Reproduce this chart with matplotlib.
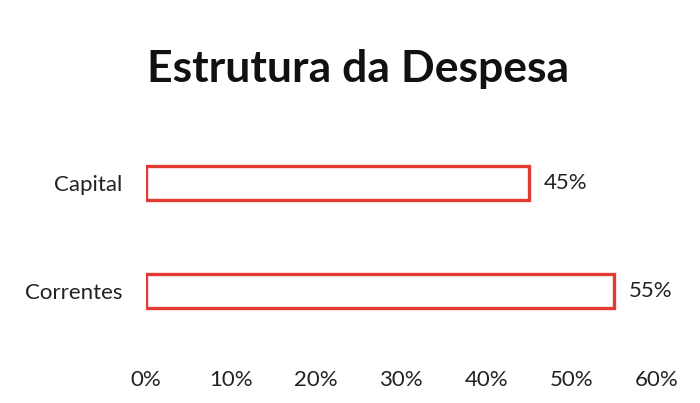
import matplotlib
matplotlib.use("Agg")
import matplotlib.pyplot as plt
from matplotlib.ticker import FuncFormatter

plt.rcParams["font.family"] = ["Lato", "DejaVu Sans"]

# data
categories = ["Correntes", "Capital"]
shares = [55, 45]
x_ticks = [0, 10, 20, 30, 40, 50, 60]

fig = plt.figure(figsize=(7.0, 4.03), dpi=100)
ax = fig.add_axes([0.2086, 0.1166, 0.7294, 0.5906])

ypos = range(len(categories))
ax.barh(ypos, shares, height=0.32, color="white", edgecolor="#e33a33", linewidth=2.4)

for y, v in zip(ypos, shares):
    ax.text(v + 1.7, y, f"{v}%", va="center", ha="left", fontsize=16, color="#222222")

ax.set_yticks(list(ypos))
ax.set_yticklabels(categories, fontsize=16, color="#222222")
ax.set_xticks(x_ticks)
ax.xaxis.set_major_formatter(FuncFormatter(lambda v, _: f"{v:.0f}%"))
ax.tick_params(axis="x", labelsize=16, labelcolor="#222222", length=0, pad=10)
ax.tick_params(axis="y", length=0, pad=17)
ax.set_xlim(0, 60)
ax.set_ylim(-0.6, 1.6)
for s in ax.spines.values():
    s.set_visible(False)

fig.text(0.511, 0.83, "Estrutura da Despesa", ha="center", va="center",
         fontsize=32, fontweight="bold", color="#111111")

fig.savefig("out.png", dpi=100)
